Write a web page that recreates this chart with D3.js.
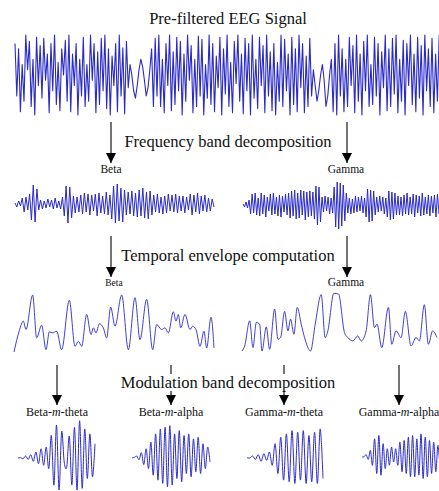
<!DOCTYPE html>
<html>
<head>
<meta charset="utf-8">
<script src="https://cdn.jsdelivr.net/npm/d3@7"></script>
<style>
  body { margin: 0; background: #fff; }
  text { font-family: "Liberation Serif", "Times New Roman", serif; fill: #111; }
</style>
</head>
<body>
<div id="chart"></div>
<script>
// ---- data (amplitudes in arbitrary units) ----

// pre-filtered EEG, successive samples
var rawEEG = [30,-20,25,-35,10,-25,38,5,32,-30,15,-38,36,-10,28,-22,35,-5,20,-36,
  30,-15,38,-28,12,-34,25,0,33,-25,38,-35,20,-10,30,-38,15,-20,36,-30,
  10,-25,38,-5,30,-36,22,-28,35,-15,38,-32,25,-38,18,-10,30,-35,38,-20,
  26,-37,32,-12,
  10,0,-15,-22,-10,5,15,8,-5,-20,-12,5,25,-30,
  35,-20,38,-30,15,-36,30,-10,38,-34,22,-28,36,-15,32,-38,20,-25,38,-5,28,-36,15,-30,37,-20,34,-38,10,-22,
  38,-28,30,-35,18,-12,36,-38,25,-18,38,-30,12,-36,32,-8,38,-25,20,-37,35,-15,30,-38,38,-22,15,-32,36,-10,
  28,-36,38,-20,22,-34,30,-38,12,-25,38,-30,34,-15,20,-38,36,-28,25,-35,38,-12,30,-36,18,-30,35,-20,
  5,-10,-25,-15,0,10,-5,-30,-20,0,15,-35,
  30,-38,38,-20,25,-35,15,-30,36,-10,28,-36,38,-25,20,-38,32,-15,38,-30,
  10,-28,36,-20,30,-38,22,-12,38,-34,25,-30,35,-18,38,-36,15,-25,33,-38,
  30,-10,38,-28,20,-35,36,-22,28,-38,38,-15,25,-30,35,-36,20,-25,38,-18];

// frequency bands
var betaBand = [1,-3,3,-2, 6,-8,7,-6,10, -16,19,-18,15,
  -6,4,-5,3,-4,5,-3,4,-5,6,-4,3,-5,7, -12,18,-19,17,-14, 8,-9,7,-8,9,
  -10,11,-8,10,-11,9,-7,10,-12,11,-9,8,-10,12,-11,9, -15,18,-19,20,-17,16,-18,14,
  -11,12,-10,13,-12,11, -13,14,-12,16,-14,12,-15,13,-11,
  9,-8,10,-9,7,-10,8,-9,10,-7,9,-8,10,-9,8,
  -7,8,-9,7,-6,10,-11,9,-8,11,-10,8,-7,9,-8,6,-7,5,-3];

var gammaBand = [1,-2,3,-3,5,
  -9,11,-8,12,-10,7,-11,12,-9,10,-12,8,-6,11,-10,12,-9,8,-11,10,-12,9,-7,11,-10,12,
  -13,14,-11,15,-14,12,-13,15,-10,14,-15,13,-12,14,-11,13,-14,
  19,-20,18,-17, 8,-7,9,-6,8,-9,7,-8, 18,-22,23,-24,22,-21,20,-16,12,
  -8,7,-9,6,-8,9,-7,8,-6,9,-8,7, -12,16,-17,15,-16,14,-10, 8,-7,9,-6,8,-9,7,
  -12,14,-15,13,-14,12,-10,
  9,-10,8,-11,10,-9,12,-10,8,-9,11,-12,10,-8,9,-11,12,-10,8,-9,10,-11,9,-8,10,-12,11,-9];

// temporal envelopes: time stamps and amplitude
var betaEnvT = [12,28,40,48,68,80,95,108,118,128,140,155,178,195,205,215,230,243,250,258,
  268,280,290,302,315,335,355,375,390,410,428,440,455,465,475,490,498,505,512,525,
  540,548,558,570,582,590,603,612];
var betaEnvA = [0,64,92,67,170,42,80,7,60,57,62,7,154,17,32,17,112,52,72,57,
  84,72,42,134,77,170,7,162,37,157,7,82,67,72,57,120,92,112,72,112,
  67,77,67,17,62,12,104,12];

var gammaEnvT = [12,20,35,45,55,65,72,85,95,110,120,128,140,150,158,168,178,190,200,218,
  232,250,262,270,288,302,320,330,345,360,370,385,398,410,418,432,452,462,475,490,
  503,520,535,545,560,572,585,598];
var gammaEnvA = [0,15,90,10,85,80,0,72,5,125,35,40,118,60,95,50,130,80,40,0,
  80,168,40,60,172,170,55,40,30,45,30,60,168,70,80,10,130,20,60,40,
  118,15,40,30,138,20,60,40];

// modulation bands
var betaMTheta = [0,1,-2,6,-4,10,-10,18,-17,28,-22,33,-32,68,-82,100,-97,80,-12,-27,
  66,-82,93,-97,113,-92,88,-62,73,-57,43];
var betaMAlpha = [0,2,6,-5,16,-20,28,-32,48,-52,73,-67,88,-77,93,-87,98,-82,73,-62,
  83,-72,68,-47,73,-57,58,-42,63,-47,43,-32,33,-12];
var gammaMTheta = [1,0,6,-4,10,-10,13,-7,18,-22,43,-47,63,-67,73,-72,83,-77,78,-67,
  83,-77,68,-72,78,-77,88,-62];
var gammaMAlpha = [0,1,7,-7,20,-25,55,-50,65,-55,40,-35,25,-25,30,-15,25,-25,45,-45,
  50,-50,60,-60,65,-60,55,-55,70,-65,60,-60,50,-50,45,-45,35,-35];

var stepTitles = ["Frequency band decomposition", "Temporal envelope computation", "Modulation band decomposition"];
var bandNames = ["Beta", "Gamma"];
var modNames = [["Beta", "theta"], ["Beta", "alpha"], ["Gamma", "theta"], ["Gamma", "alpha"]];

// ---- drawing ----
var width = 439, height = 491;
var lineColor = "#2a2ac8";

var svg = d3.select("#chart").append("svg")
    .attr("width", width)
    .attr("height", height);

var defs = svg.append("defs");
defs.append("marker")
    .attr("id", "head")
    .attr("viewBox", "0 0 10 10")
    .attr("refX", 10).attr("refY", 5)
    .attr("markerWidth", 10).attr("markerHeight", 10)
    .attr("markerUnits", "userSpaceOnUse")
    .attr("orient", "auto")
    .append("path")
    .attr("d", "M0,0L10,5L0,10Z")
    .attr("fill", "#000");

// draws a series of evenly spaced samples into a box
function drawTrace(values, x0, x1, yc, halfH, ampMax, curve, sw) {
    var x = d3.scaleLinear().domain([0, values.length - 1]).range([x0, x1]);
    var y = d3.scaleLinear().domain([-ampMax, ampMax]).range([yc + halfH, yc - halfH]);
    var line = d3.line()
        .x(function(d, i) { return x(i); })
        .y(function(d) { return y(d); })
        .curve(curve);
    svg.append("path")
        .datum(values)
        .attr("d", line)
        .attr("fill", "none")
        .attr("stroke", lineColor)
        .attr("stroke-width", sw)
        .attr("stroke-linejoin", "round");
}

// draws an envelope given time stamps
function drawEnvelope(ts, as, x0, x1, yBottom, yTop) {
    var x = d3.scaleLinear().domain(d3.extent(ts)).range([x0, x1]);
    var y = d3.scaleLinear().domain([0, 170]).range([yBottom, yTop]);
    var line = d3.line()
        .x(function(d, i) { return x(ts[i]); })
        .y(function(d) { return y(d); })
        .curve(d3.curveMonotoneX);
    svg.append("path")
        .datum(as)
        .attr("d", line)
        .attr("fill", "none")
        .attr("stroke", lineColor)
        .attr("stroke-width", 0.9);
}

function arrow(x, y0, y1) {
    svg.append("line")
        .attr("x1", x).attr("x2", x)
        .attr("y1", y0).attr("y2", y1)
        .attr("stroke", "#000")
        .attr("stroke-width", 1.1)
        .attr("marker-end", "url(#head)");
}

// title + raw signal
svg.append("text")
    .attr("x", 228).attr("y", 24)
    .attr("text-anchor", "middle")
    .style("font-size", "16.5px")
    .text("Pre-filtered EEG Signal");

drawTrace(rawEEG, 15, 441, 75, 42, 40, d3.curveLinear, 1.1);

// step 1
arrow(111, 122, 163);
arrow(347, 122, 163);
svg.append("text")
    .attr("x", 228).attr("y", 147)
    .attr("text-anchor", "middle")
    .style("font-size", "16.5px")
    .text(stepTitles[0]);

svg.selectAll(".band1")
    .data(bandNames)
    .enter().append("text")
    .attr("x", function(d, i) { return i ? 346 : 111; })
    .attr("y", 173)
    .attr("text-anchor", "middle")
    .style("font-size", "11.5px")
    .text(function(d) { return d; });

drawTrace(betaBand, 15, 214, 204, 20, 20, d3.curveLinear, 1);
drawTrace(gammaBand, 243, 439, 205, 24, 24, d3.curveLinear, 1);

// step 2
arrow(111, 236, 277);
arrow(347, 236, 277);
svg.append("text")
    .attr("x", 228).attr("y", 261)
    .attr("text-anchor", "middle")
    .style("font-size", "16.5px")
    .text(stepTitles[1]);

svg.selectAll(".band2")
    .data(bandNames)
    .enter().append("text")
    .attr("x", function(d, i) { return i ? 346 : 114; })
    .attr("y", 286)
    .attr("text-anchor", "middle")
    .style("font-size", function(d, i) { return i ? "11.5px" : "9.5px"; })
    .text(function(d) { return d; });

drawEnvelope(betaEnvT, betaEnvA, 14, 214, 352, 295);
drawEnvelope(gammaEnvT, gammaEnvA, 242, 437, 351, 294);

// step 3
var modX = [57, 171, 284, 399];
modX.forEach(function(x) { arrow(x, 365, 405); });

var t3 = svg.append("text")
    .attr("x", 228).attr("y", 388)
    .attr("text-anchor", "middle")
    .style("font-size", "16.5px")
    .text(stepTitles[2]);
var bb = t3.node().getBBox();
svg.insert("rect", "text:last-of-type")
    .attr("x", bb.x - 2).attr("y", bb.y + 1)
    .attr("width", bb.width + 4).attr("height", bb.height - 2)
    .attr("fill", "#fff");
t3.raise();

var modLabels = svg.selectAll(".modlabel")
    .data(modNames)
    .enter().append("text")
    .attr("x", function(d, i) { return modX[i]; })
    .attr("y", 416)
    .attr("text-anchor", "middle")
    .style("font-size", "12px");
modLabels.append("tspan").text(function(d) { return d[0] + "-"; });
modLabels.append("tspan").style("font-style", "italic").text("m");
modLabels.append("tspan").text(function(d) { return "-" + d[1]; });

drawTrace(betaMTheta, 18, 95, 458, 33, 100, d3.curveCardinal, 1);
drawTrace(betaMAlpha, 132, 210, 458, 33, 100, d3.curveCardinal, 1);
drawTrace(gammaMTheta, 247, 323, 458, 33, 100, d3.curveCardinal, 1);
drawTrace(gammaMAlpha, 362, 440, 457, 33, 100, d3.curveCardinal, 1);
</script>
</body>
</html>
